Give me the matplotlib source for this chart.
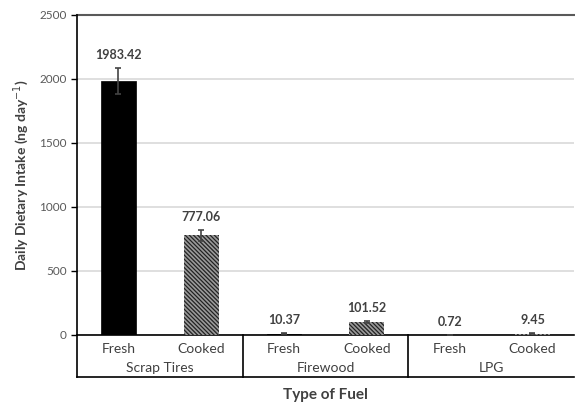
import matplotlib.pyplot as plt
import numpy as np

plt.rcParams['font.family'] = ['Lato', 'DejaVu Sans']
plt.rcParams['hatch.linewidth'] = 0.9

fuels = ['Scrap Tires', 'Firewood', 'LPG']
states = ['Fresh', 'Cooked']
values = [1983.42, 777.06, 10.37, 101.52, 0.72, 9.45]
errors = [100, 40, 3, 8, 0.5, 2]
labels = ['1983.42', '777.06', '10.37', '101.52', '0.72', '9.45']

fig = plt.figure(figsize=(5.75, 4.03), dpi=100)
ax = fig.add_axes([0.134, 0.169, 0.864, 0.794])

x = np.arange(len(values))
for i, v in enumerate(values):
    if i % 2 == 0:
        ax.bar(x[i], v, width=0.42, color='black', edgecolor='black', linewidth=0.5, zorder=3)
    else:
        ax.bar(x[i], v, width=0.42, color='#9a9a9a', edgecolor='#222222', linewidth=0,
               hatch='\\\\\\\\\\\\\\\\', zorder=3)
    ax.errorbar(x[i], v, yerr=errors[i], fmt='none', ecolor='#444444', elinewidth=1.2,
                capsize=2.5, capthick=1.2, zorder=4)
    ax.text(x[i], v + errors[i] + 55, labels[i], ha='center', va='bottom',
            fontsize=9, fontweight='bold', color='#404040')

ax.set_xlim(-0.5, 5.5)
ax.set_ylim(0, 2500)
ax.set_yticks([0, 500, 1000, 1500, 2000, 2500])
ax.tick_params(axis='y', labelsize=8.5, labelcolor='#595959', length=4, width=1, direction='out')
ax.yaxis.grid(True, color='#d9d9d9', linewidth=1.2, zorder=0)
ax.set_axisbelow(True)
ax.axhline(2500, color='#595959', linewidth=1.5, zorder=2, clip_on=False)

ax.spines['right'].set_visible(False)
ax.spines['top'].set_visible(False)
ax.spines['left'].set_linewidth(1.2)
ax.spines['bottom'].set_linewidth(1.2)

ax.set_xticks(x)
ax.set_xticklabels([])
ax.tick_params(axis='x', length=0)

# hierarchical category axis
trans = ax.get_xaxis_transform()
for i in x:
    ax.text(i, -0.045, states[i % 2], transform=trans,
            ha='center', va='center', fontsize=10, color='#404040')
for g, name in enumerate(fuels):
    ax.text(2 * g + 0.5, -0.102, name, transform=trans,
            ha='center', va='center', fontsize=10, color='#404040')
for xs in [-0.5, 1.5, 3.5]:
    ax.plot([xs, xs], [0, -0.131], transform=trans, color='black', linewidth=1.2, clip_on=False)
ax.plot([-0.5, 5.5], [-0.131, -0.131], transform=trans, color='black', linewidth=1.2, clip_on=False)

ax.set_ylabel('Daily Dietary Intake (ng day$^{-1}$)', fontsize=10, fontweight='bold',
              color='#404040', labelpad=6)
ax.text(2.5, -0.188, 'Type of Fuel', transform=trans, ha='center', va='center',
        fontsize=11, fontweight='bold', color='#404040')

fig.savefig('out.png', dpi=100)
